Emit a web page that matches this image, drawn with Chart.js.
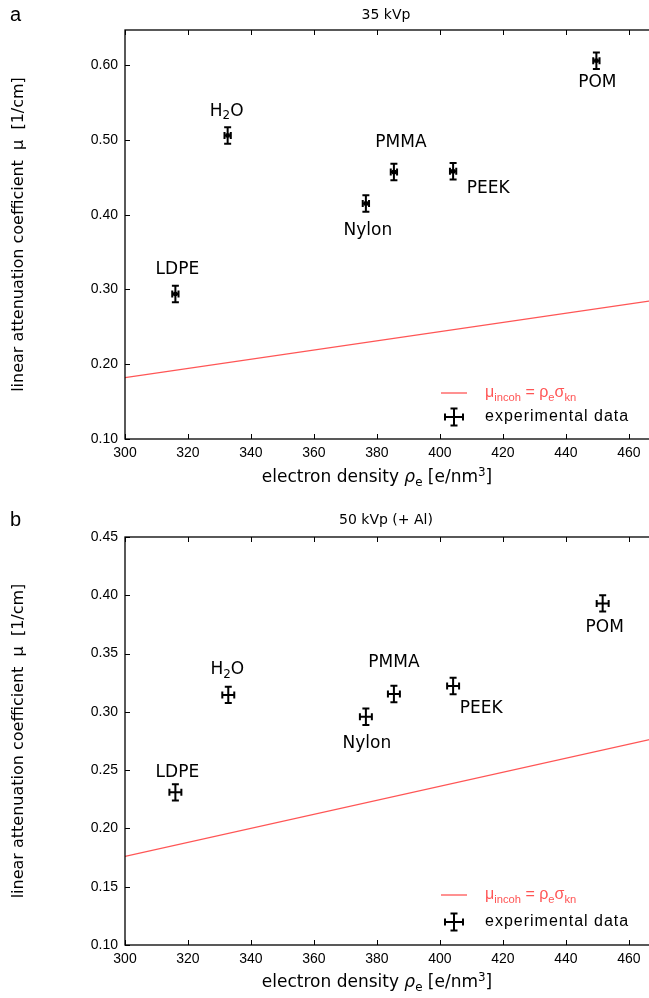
<!DOCTYPE html>
<html>
<head>
<meta charset="utf-8">
<script src="https://cdn.jsdelivr.net/npm/chart.js@4.4.0/dist/chart.umd.min.js"></script>
<style>
  html, body { margin: 0; padding: 0; background: #fff; overflow: hidden; }
  #wrap { position: relative; width: 649px; height: 998px; overflow: hidden; }
  canvas { position: absolute; left: 0; }
</style>
</head>
<body>
<div id="wrap">
  <canvas id="chartA" width="660" height="505" style="top:0"></canvas>
  <canvas id="chartB" width="660" height="493" style="top:505px"></canvas>
</div>
<script>
// Data
const materials = ["LDPE", "H2O", "Nylon", "PMMA", "PEEK", "POM"];

// panel a: 35 kVp
const densityA = [316.0, 332.6, 376.5, 385.4, 404.2, 449.7];
const muA = [0.294, 0.506, 0.415, 0.457, 0.458, 0.606];
const xErrA = [1.0, 1.0, 1.0, 1.0, 1.0, 1.0];
const yErrA = [0.011, 0.011, 0.011, 0.011, 0.011, 0.011];
const kleinX = [300, 468];
const kleinA = [0.182, 0.2855];

// panel b: 50 kVp (+ Al)
const densityB = [316.0, 332.8, 376.5, 385.4, 404.2, 451.7];
const muB = [0.231, 0.3145, 0.2958, 0.3153, 0.3222, 0.393];
const xErrB = [1.9, 1.9, 1.9, 1.9, 1.9, 1.9];
const yErrB = [0.007, 0.007, 0.007, 0.007, 0.007, 0.007];
const kleinB = [0.176, 0.277];

// tick labels
const xTicks = [300, 320, 340, 360, 380, 400, 420, 440, 460];
const yTicksA = [0.10, 0.20, 0.30, 0.40, 0.50, 0.60];
const yTicksB = [0.10, 0.15, 0.20, 0.25, 0.30, 0.35, 0.40, 0.45];

// label offsets in px from the point (layout only)
const labelOffA = [[2, -24], [-1, -24], [2, 27], [7, -29], [35, 17], [1, 22]];
const labelOffB = [[2, -20], [-1, -25], [1, 27], [0, -31], [28, 23], [2, 24]];

const RED = "#ff5555";

// draw text with sub/superscript parts: [text, mode] mode 0 normal, -1 sub, 1 sup
function richWidth(ctx, parts, size, family) {
  let w = 0;
  parts.forEach(p => {
    const s = p[1] === 0 ? size : size * 0.7;
    ctx.font = (p[2] || "") + s + "px " + family;
    w += ctx.measureText(p[0]).width;
  });
  return w;
}
function drawRich(ctx, parts, x, y, size, family, color, align) {
  let w = richWidth(ctx, parts, size, family);
  let cx = align === "center" ? x - w / 2 : x;
  ctx.fillStyle = color;
  ctx.textBaseline = "middle";
  ctx.textAlign = "left";
  parts.forEach(p => {
    const s = p[1] === 0 ? size : size * 0.7;
    ctx.font = (p[2] || "") + s + "px " + family;
    const dy = p[1] === -1 ? size * 0.28 : (p[1] === 1 ? -size * 0.32 : 0);
    ctx.fillText(p[0], cx, y + dy);
    cx += ctx.measureText(p[0]).width;
  });
}

function labelParts(name) {
  if (name === "H2O") return [["H", 0], ["2", -1], ["O", 0]];
  return [[name, 0]];
}

function errorCross(ctx, px, py, hx, hy, cap) {
  ctx.beginPath();
  ctx.moveTo(px - hx, py); ctx.lineTo(px + hx, py);
  ctx.moveTo(px, py - hy); ctx.lineTo(px, py + hy);
  ctx.moveTo(px - cap, py - hy); ctx.lineTo(px + cap, py - hy);
  ctx.moveTo(px - cap, py + hy); ctx.lineTo(px + cap, py + hy);
  ctx.moveTo(px - hx, py - cap); ctx.lineTo(px - hx, py + cap);
  ctx.moveTo(px + hx, py - cap); ctx.lineTo(px + hx, py + cap);
  ctx.stroke();
}

function panelPlugin(opt) {
  return {
    id: "panel" + opt.letter,
    afterDatasetsDraw(chart) {
      const ctx = chart.ctx;
      const a = chart.chartArea;
      const xs = chart.scales.x, ys = chart.scales.y;
      ctx.save();
      // error bars
      ctx.strokeStyle = "#000";
      ctx.lineWidth = 2;
      opt.xv.forEach((xv, i) => {
        const px = xs.getPixelForValue(xv), py = ys.getPixelForValue(opt.yv[i]);
        const hx = xs.getPixelForValue(xv + opt.xe[i]) - px;
        const hy = py - ys.getPixelForValue(opt.yv[i] + opt.ye[i]);
        errorCross(ctx, px, py, hx, hy, 3.5);
      });
      // point labels
      opt.xv.forEach((xv, i) => {
        const px = xs.getPixelForValue(xv), py = ys.getPixelForValue(opt.yv[i]);
        drawRich(ctx, labelParts(materials[i]), px + opt.off[i][0], py + opt.off[i][1], 17, "'DejaVu Sans', sans-serif", "#000", "center");
      });
      // frame
      ctx.strokeStyle = "#000";
      ctx.lineWidth = 1.3;
      ctx.strokeRect(a.left, a.top, a.right - a.left, a.bottom - a.top);
      // inward ticks
      ctx.lineWidth = 1;
      ctx.beginPath();
      xTicks.forEach(t => {
        const px = Math.round(xs.getPixelForValue(t)) + 0.5;
        ctx.moveTo(px, a.bottom); ctx.lineTo(px, a.bottom - 5);
        ctx.moveTo(px, a.top); ctx.lineTo(px, a.top + 5);
      });
      opt.yt.forEach(t => {
        const py = Math.round(ys.getPixelForValue(t)) + 0.5;
        ctx.moveTo(a.left, py); ctx.lineTo(a.left + 5, py);
      });
      ctx.stroke();
      // legend
      const lx = 441, tx = 485;
      ctx.strokeStyle = RED; ctx.lineWidth = 1.3;
      ctx.beginPath(); ctx.moveTo(lx, opt.legY1); ctx.lineTo(lx + 26, opt.legY1); ctx.stroke();
      drawRich(ctx, [["μ", 0], ["incoh", -1], [" = ρ", 0], ["e", -1], ["σ", 0], ["kn", -1]], tx, opt.legY1, 16, "'Liberation Sans', Arial, sans-serif", RED, "left");
      ctx.strokeStyle = "#000"; ctx.lineWidth = 2;
      errorCross(ctx, 454, opt.legY2, 9, 8.5, 3.5);
      ctx.fillStyle = "#000";
      ctx.font = "16px 'Liberation Sans', Arial, sans-serif";
      ctx.letterSpacing = "1px";
      ctx.textAlign = "left"; ctx.textBaseline = "middle";
      ctx.fillText("experimental data", tx, opt.legY2);
      ctx.letterSpacing = "0px";
      // panel letter and title
      ctx.font = "20px 'Liberation Sans', Arial, sans-serif";
      ctx.fillText(opt.letter, 10, 15);
      ctx.font = "14px 'DejaVu Sans', sans-serif";
      ctx.textAlign = "center";
      ctx.fillText(opt.title, 386, 15);
      // x axis title
      drawRich(ctx, [["electron density ", 0], ["ρ", 0, "italic "], ["e", -1], [" [e/nm", 0], ["3", 1], ["]", 0]],
        377, 478, 17, "'DejaVu Sans', sans-serif", "#000", "center");
      // y axis title
      ctx.translate(19, (a.top + a.bottom) / 2);
      ctx.rotate(-Math.PI / 2);
      ctx.font = "16px 'DejaVu Sans', sans-serif";
      ctx.fillStyle = "#000";
      ctx.textAlign = "center"; ctx.textBaseline = "middle";
      ctx.fillText("linear attenuation coefficient  μ  [1/cm]", 0, 0);
      ctx.restore();
    }
  };
}

function makeChart(id, opt) {
  const pts = opt.xv.map((x, i) => ({ x: x, y: opt.yv[i] }));
  const line = kleinX.map((x, i) => ({ x: x, y: opt.klein[i] }));
  return new Chart(document.getElementById(id), {
    type: "scatter",
    data: {
      datasets: [
        { data: pts, pointStyle: "rect", pointRadius: opt.marker, backgroundColor: "#000", borderColor: "#000", borderWidth: 0 },
        { data: line, showLine: true, borderColor: RED, borderWidth: 1.3, pointRadius: 0 }
      ]
    },
    options: {
      responsive: false,
      animation: false,
      devicePixelRatio: 1,
      layout: { padding: { top: opt.top, right: 6, left: 0, bottom: 0 } },
      plugins: { legend: { display: false }, tooltip: { enabled: false } },
      scales: {
        x: {
          type: "linear", min: 300, max: 468,
          afterBuildTicks: s => { s.ticks = xTicks.map(v => ({ value: v })); },
          afterFit: s => { s.height = opt.axisH; },
          grid: { display: false, drawTicks: false },
          border: { display: false },
          ticks: { color: "#000", padding: 6, maxRotation: 0, font: { family: "'Liberation Sans', Arial, sans-serif", size: 14 }, callback: v => String(v) }
        },
        y: {
          type: "linear", min: opt.ymin, max: opt.ymax,
          afterBuildTicks: s => { s.ticks = opt.yt.map(v => ({ value: v })); },
          afterFit: s => { s.width = 125; },
          grid: { display: false, drawTicks: false },
          border: { display: false },
          ticks: { color: "#000", padding: 7, font: { family: "'Liberation Sans', Arial, sans-serif", size: 14 }, callback: v => v.toFixed(2) }
        }
      }
    },
    plugins: [panelPlugin(opt)]
  });
}

makeChart("chartA", {
  letter: "a", title: "35 kVp", xv: densityA, yv: muA, xe: xErrA, ye: yErrA, klein: kleinA,
  yt: yTicksA, ymin: 0.10, ymax: 0.647, top: 30, axisH: 66, marker: 3,
  off: labelOffA, legY1: 393, legY2: 417
});
makeChart("chartB", {
  letter: "b", title: "50 kVp (+ Al)", xv: densityB, yv: muB, xe: xErrB, ye: yErrB, klein: kleinB,
  yt: yTicksB, ymin: 0.10, ymax: 0.45, top: 32, axisH: 53, marker: 0,
  off: labelOffB, legY1: 390, legY2: 417
});
</script>
</body>
</html>
